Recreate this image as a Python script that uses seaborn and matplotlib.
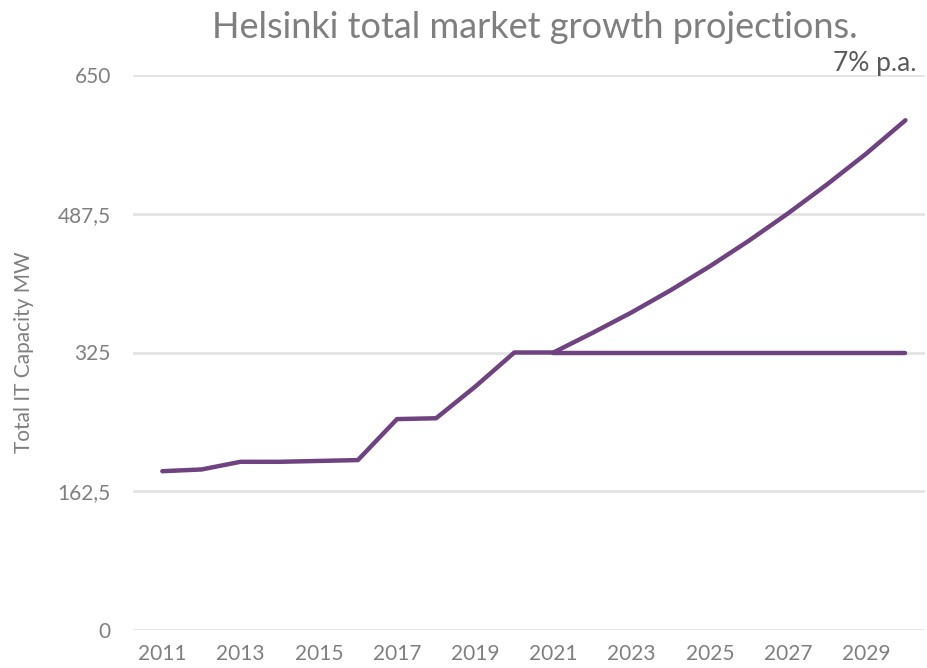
"""Helsinki total market growth projections line chart."""

import matplotlib.pyplot as plt
import pandas as pd
import seaborn as sns

years_hist = [2011, 2012, 2013, 2014, 2015, 2016, 2017, 2018, 2019, 2020, 2021]
capacity_hist = [186, 188, 197, 197, 198, 199, 247, 248, 285, 325, 325]

years_proj = [2021, 2022, 2023, 2024, 2025, 2026, 2027, 2028, 2029, 2030]
capacity_growth = [325, 348, 372, 398, 426, 456, 488, 522, 558, 597]
capacity_flat = [325, 325, 325, 325, 325, 325, 325, 325, 325, 325]

y_ticks = [0, 162.5, 325, 487.5, 650]
y_tick_labels = ["0", "162,5", "325", "487,5", "650"]
x_ticks = [2011, 2013, 2015, 2017, 2019, 2021, 2023, 2025, 2027, 2029]

PURPLE = "#6E4380"
GREY = "#7F7F7F"

frames = [
    pd.DataFrame({"year": years_hist, "mw": capacity_hist, "series": "history"}),
    pd.DataFrame({"year": years_proj, "mw": capacity_flat, "series": "flat"}),
    pd.DataFrame({"year": years_proj, "mw": capacity_growth, "series": "growth"}),
]
df = pd.concat(frames, ignore_index=True)

sns.set_theme(style="white")
plt.rcParams["font.family"] = ["Lato", "DejaVu Sans"]

fig = plt.figure(figsize=(9.27, 6.68), dpi=100)
ax = fig.add_axes([133 / 927, 38 / 668, 792 / 927, 555 / 668])

sns.lineplot(
    data=df,
    x="year",
    y="mw",
    units="series",
    estimator=None,
    color=PURPLE,
    linewidth=3.2,
    solid_capstyle="round",
    solid_joinstyle="round",
    legend=False,
    ax=ax,
)

ax.set_xlim(2010.25, 2030.5)
ax.set_ylim(0, 650)
ax.set_yticks(y_ticks)
ax.set_yticklabels(y_tick_labels)
ax.set_xticks(x_ticks)
ax.set_xticklabels([str(y) for y in x_ticks])
ax.tick_params(axis="both", length=0, labelsize=15, labelcolor=GREY)
ax.tick_params(axis="x", pad=10)
ax.tick_params(axis="y", pad=16)
ax.yaxis.grid(True, color="#E3E3E3", linewidth=2)
ax.set_axisbelow(True)
sns.despine(ax=ax, left=True, bottom=True)

ax.set_xlabel("")
ax.set_ylabel("Total IT Capacity MW", fontsize=15, color=GREY)
ax.yaxis.set_label_coords(-(133 - 34) / 792, 0.5)

fig.text(535 / 927, 1 - 27 / 668, "Helsinki total market growth projections.",
         ha="center", va="center", fontsize=26, color=GREY)
fig.text(875 / 927, 1 - 63 / 668, "7% p.a.", ha="center", va="center",
         fontsize=19, color="#595959")

fig.savefig("out.png", dpi=100)
